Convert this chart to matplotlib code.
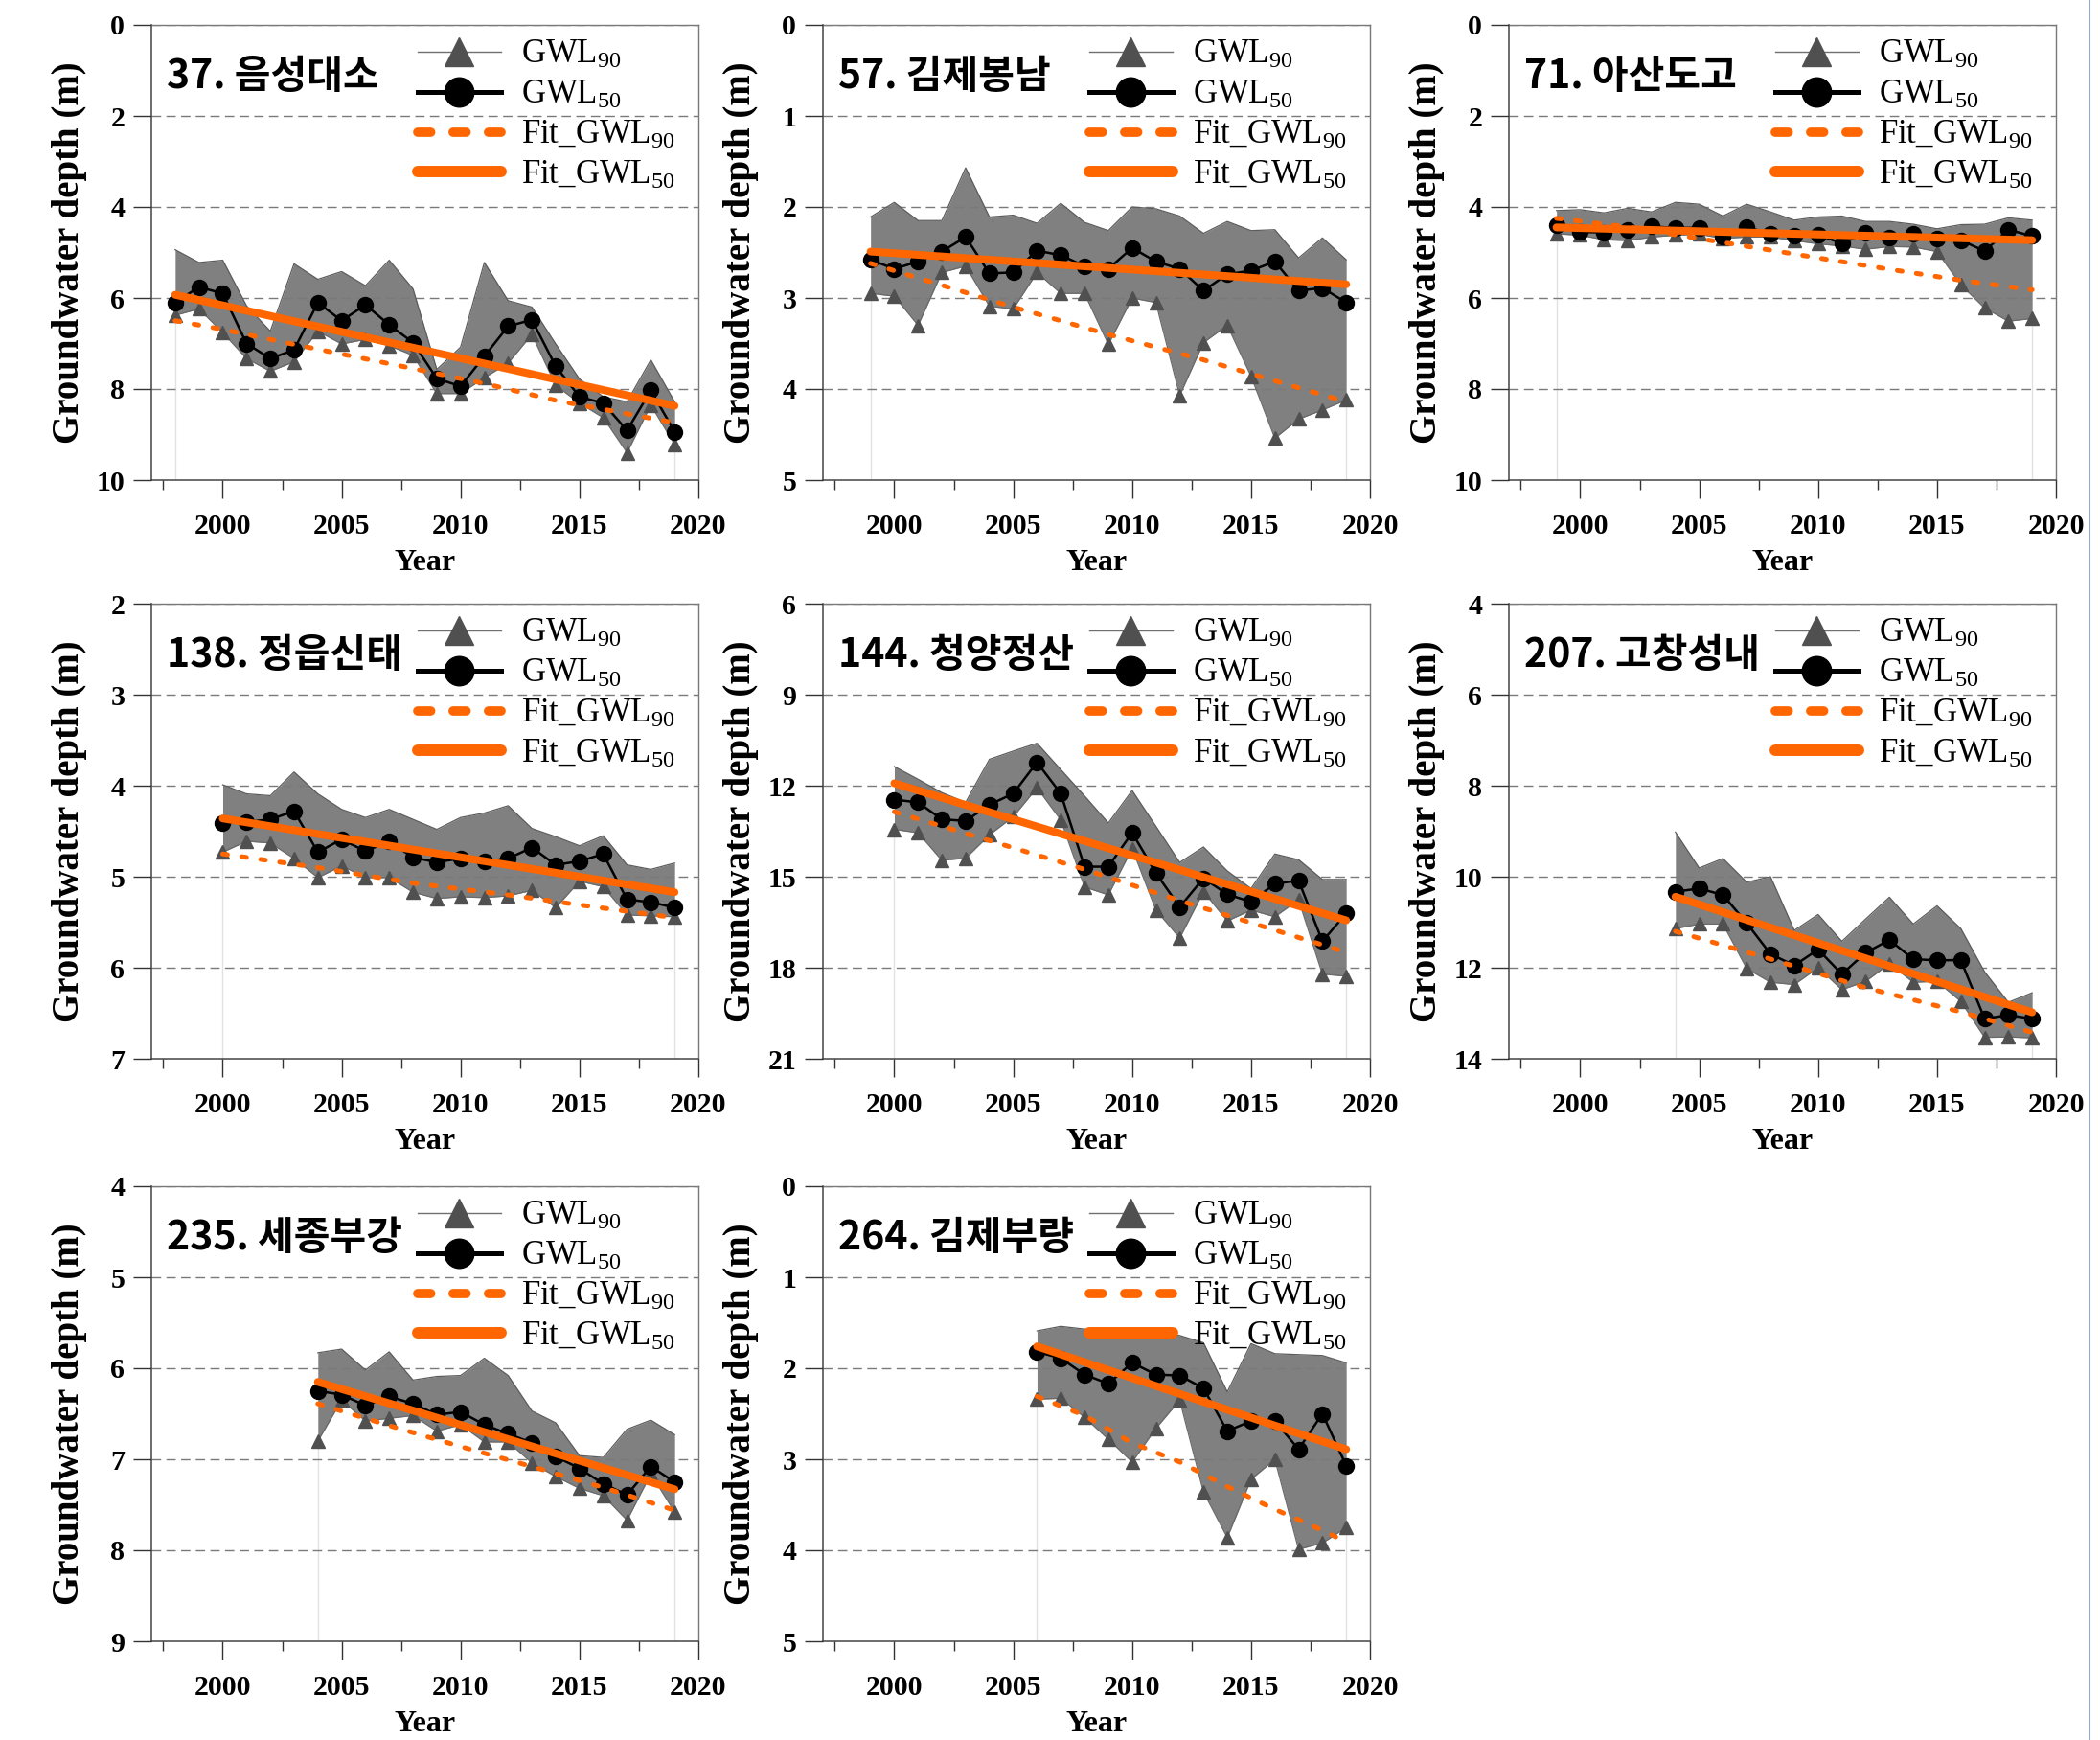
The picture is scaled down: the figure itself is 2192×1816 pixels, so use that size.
import matplotlib
matplotlib.use("Agg")
import matplotlib.pyplot as plt
from matplotlib.lines import Line2D
from matplotlib.ticker import MultipleLocator

plt.rcParams["font.family"] = ["Liberation Serif", "DejaVu Serif"]
plt.rcParams["mathtext.fontset"] = "custom"
plt.rcParams["mathtext.rm"] = "Liberation Serif"
plt.rcParams["mathtext.it"] = "Liberation Serif:italic"
plt.rcParams["mathtext.bf"] = "Liberation Serif:bold"

# ---------------------------------------------------------------------------
# Data (groundwater depth, m)
# upper_*: shallow edge of the shaded band, g90_*: GWL90, g50_*: GWL50
# fit50_*: (first-year, last-year) values of the linear GWL50 fit
# fit90_*: GWL90 fit curve read at the years in fit90_yr_*
# ---------------------------------------------------------------------------
upper_37 = [4.94, 5.22, 5.17, 6.17, 6.73, 5.25, 5.59, 5.42, 5.73, 5.17, 5.80,
            7.57, 7.08, 5.22, 6.06, 6.20, 7.01, 7.78, 8.17, 8.28, 7.36, 8.28]
g90_37 = [6.38, 6.24, 6.76, 7.33, 7.61, 7.40, 6.73, 7.01, 6.91, 7.05, 7.26,
          8.10, 8.10, 7.75, 7.43, 6.80, 7.92, 8.31, 8.63, 9.40, 8.35, 9.22]
g50_37 = [6.10, 5.76, 5.90, 7.00, 7.33, 7.14, 6.10, 6.50, 6.15, 6.59, 6.98,
          7.77, 7.94, 7.28, 6.62, 6.48, 7.50, 8.17, 8.31, 8.91, 8.03, 8.94]
fit50_37 = [5.93, 8.37]
fit90_yr_37 = [1998, 2000, 2003, 2008, 2011, 2014, 2019]
fit90_37 = [6.50, 6.69, 7.02, 7.55, 7.88, 8.25, 8.74]

upper_57 = [2.11, 1.95, 2.15, 2.15, 1.57, 2.11, 2.09, 2.18, 1.96, 2.17, 2.26,
            2.00, 2.02, 2.10, 2.29, 2.16, 2.26, 2.25, 2.56, 2.34, 2.58]
g90_57 = [2.95, 2.98, 3.30, 2.72, 2.65, 3.09, 3.12, 2.72, 2.95, 2.95, 3.51,
          3.00, 3.05, 4.07, 3.49, 3.30, 3.86, 4.54, 4.33, 4.23, 4.12]
g50_57 = [2.58, 2.68, 2.60, 2.49, 2.33, 2.73, 2.72, 2.48, 2.53, 2.65, 2.68,
          2.45, 2.60, 2.68, 2.92, 2.74, 2.70, 2.60, 2.92, 2.89, 3.05]
fit50_57 = [2.49, 2.85]
fit90_yr_57 = [1999, 2002, 2005, 2009, 2013, 2016, 2019]
fit90_57 = [2.62, 2.86, 3.10, 3.40, 3.68, 3.91, 4.14]

upper_71 = [4.08, 4.06, 4.13, 4.03, 4.11, 3.90, 3.94, 4.20, 3.94, 4.11, 4.29,
            4.22, 4.20, 4.32, 4.32, 4.38, 4.48, 4.39, 4.38, 4.24, 4.29]
g90_71 = [4.59, 4.62, 4.72, 4.74, 4.66, 4.62, 4.60, 4.69, 4.66, 4.66, 4.74,
          4.81, 4.86, 4.93, 4.87, 4.88, 4.98, 5.71, 6.22, 6.51, 6.45]
g50_71 = [4.41, 4.55, 4.56, 4.51, 4.43, 4.46, 4.46, 4.65, 4.45, 4.58, 4.63,
          4.61, 4.80, 4.57, 4.68, 4.60, 4.69, 4.73, 4.97, 4.50, 4.64]
fit50_71 = [4.45, 4.73]
fit90_yr_71 = [1999, 2002, 2006, 2010, 2013, 2016, 2019]
fit90_71 = [4.25, 4.44, 4.78, 5.12, 5.37, 5.61, 5.82]

upper_138 = [3.99, 4.09, 4.11, 3.85, 4.09, 4.26, 4.35, 4.26, 4.37, 4.48,
             4.35, 4.30, 4.22, 4.47, 4.56, 4.66, 4.55, 4.87, 4.92, 4.85]
g90_138 = [4.73, 4.61, 4.63, 4.80, 5.01, 4.88, 5.01, 5.01, 5.17, 5.24,
           5.22, 5.23, 5.21, 5.15, 5.34, 5.05, 5.11, 5.42, 5.43, 5.44]
g50_138 = [4.41, 4.40, 4.37, 4.28, 4.73, 4.59, 4.72, 4.61, 4.79, 4.84,
           4.80, 4.83, 4.80, 4.68, 4.87, 4.83, 4.75, 5.25, 5.28, 5.34]
fit50_138 = [4.36, 5.17]
fit90_yr_138 = [2000, 2004, 2008, 2012, 2015, 2019]
fit90_138 = [4.75, 4.90, 5.07, 5.20, 5.31, 5.45]

upper_144 = [11.37, 11.79, 12.23, 12.55, 11.13, 10.86, 10.60, 11.47, 12.34, 13.23,
             12.16, 13.34, 14.53, 14.02, 14.81, 15.39, 14.25, 14.44, 15.09, 15.09]
g90_144 = [13.44, 13.55, 14.46, 14.39, 13.62, 13.02, 12.07, 13.13, 15.34, 15.60,
           14.07, 16.10, 17.02, 15.49, 16.46, 16.10, 16.32, 15.76, 18.21, 18.28]
g50_144 = [12.46, 12.55, 13.11, 13.16, 12.63, 12.26, 11.23, 12.26, 14.67, 14.67,
           13.55, 14.88, 16.00, 15.05, 15.58, 15.83, 15.23, 15.13, 17.13, 16.21]
fit50_144 = [11.92, 16.44]
fit90_yr_144 = [2000, 2004, 2008, 2012, 2016, 2019]
fit90_144 = [12.86, 13.81, 14.76, 15.79, 16.76, 17.49]

upper_207 = [9.02, 9.81, 9.60, 10.12, 10.00, 11.18, 10.83, 11.42,
             10.93, 10.45, 11.04, 10.64, 11.14, 12.09, 12.76, 12.55]
g90_207 = [11.14, 11.04, 11.04, 12.02, 12.32, 12.37, 12.00, 12.48,
           12.30, 11.91, 12.32, 12.30, 12.74, 13.53, 13.52, 13.54]
g50_207 = [10.33, 10.26, 10.40, 11.02, 11.70, 11.95, 11.60, 12.14,
           11.67, 11.39, 11.81, 11.84, 11.83, 13.12, 13.04, 13.12]
fit50_207 = [10.44, 12.98]
fit90_yr_207 = [2004, 2008, 2012, 2016, 2019]
fit90_207 = [11.20, 11.81, 12.44, 12.97, 13.42]

upper_235 = [5.83, 5.79, 6.02, 5.82, 6.13, 6.09, 6.08, 5.89,
             6.08, 6.47, 6.60, 6.96, 6.98, 6.67, 6.57, 6.73]
g90_235 = [6.80, 6.35, 6.58, 6.55, 6.52, 6.69, 6.62, 6.81,
           6.81, 7.04, 7.19, 7.32, 7.40, 7.67, 7.16, 7.58]
g50_235 = [6.25, 6.29, 6.41, 6.31, 6.39, 6.51, 6.48, 6.62,
           6.72, 6.82, 6.97, 7.10, 7.27, 7.39, 7.08, 7.25]
fit50_235 = [6.15, 7.33]
fit90_yr_235 = [2004, 2007, 2010, 2013, 2016, 2019]
fit90_235 = [6.39, 6.63, 6.86, 7.08, 7.31, 7.56]

upper_264 = [1.59, 1.54, 1.57, 1.59, 1.61, 1.62, 1.64,
             1.72, 2.26, 1.73, 1.84, 1.85, 1.86, 1.94]
g90_264 = [2.34, 2.33, 2.54, 2.78, 3.03, 2.66, 2.35,
           3.36, 3.86, 3.22, 3.00, 3.99, 3.92, 3.75]
g50_264 = [1.82, 1.89, 2.07, 2.17, 1.94, 2.07, 2.08,
           2.22, 2.69, 2.58, 2.58, 2.89, 2.50, 3.07]
fit50_264 = [1.76, 2.89]
fit90_yr_264 = [2006, 2008, 2010, 2012, 2014, 2016, 2018, 2019]
fit90_264 = [2.31, 2.52, 2.82, 3.03, 3.30, 3.55, 3.78, 3.91]

station_names = ["37. 음성대소", "57. 김제봉남", "71. 아산도고",
                 "138. 정읍신태", "144. 청양정산", "207. 고창성내",
                 "235. 세종부강", "264. 김제부량"]
first_years = [1998, 1999, 1999, 2000, 2000, 2004, 2004, 2006]
last_year = 2019
y_ranges = [(0, 10), (0, 5), (0, 10), (2, 7), (6, 21), (4, 14), (4, 9), (0, 5)]
y_steps = [2, 1, 2, 1, 3, 2, 1, 1]

uppers = [upper_37, upper_57, upper_71, upper_138, upper_144, upper_207, upper_235, upper_264]
g90s = [g90_37, g90_57, g90_71, g90_138, g90_144, g90_207, g90_235, g90_264]
g50s = [g50_37, g50_57, g50_71, g50_138, g50_144, g50_207, g50_235, g50_264]
fit50s = [fit50_37, fit50_57, fit50_71, fit50_138, fit50_144, fit50_207, fit50_235, fit50_264]
fit90_yrs = [fit90_yr_37, fit90_yr_57, fit90_yr_71, fit90_yr_138,
             fit90_yr_144, fit90_yr_207, fit90_yr_235, fit90_yr_264]
fit90s = [fit90_37, fit90_57, fit90_71, fit90_138, fit90_144, fit90_207, fit90_235, fit90_264]

# ---------------------------------------------------------------------------
# Style / layout
# ---------------------------------------------------------------------------
ORANGE = "#ff6600"
BAND = "#808080"
TRI = "#505050"
W_PX, H_PX = 2192, 1816
COL_LEFT = [158, 859, 1575]
ROW_TOP = [26, 630, 1238]
AX_W, AX_H = 571, 475

fig = plt.figure(figsize=(W_PX / 100, H_PX / 100), dpi=100)

legend_handles = [
    Line2D([], [], color="#707070", lw=1.0, marker="^", ms=21, mfc=TRI, mec=TRI),
    Line2D([], [], color="black", lw=3.6, marker="o", ms=22, mfc="black", mec="black"),
    Line2D([], [], color=ORANGE, lw=7, dashes=(1.4, 2.4), dash_capstyle="round"),
    Line2D([], [], color=ORANGE, lw=8.6, solid_capstyle="round"),
]
legend_labels = ["GWL$_{90}$", "GWL$_{50}$", "Fit_GWL$_{90}$", "Fit_GWL$_{50}$"]

for i, name in enumerate(station_names):
    row, col = divmod(i, 3)
    left = COL_LEFT[col] / W_PX
    bottom = 1 - (ROW_TOP[row] + AX_H) / H_PX
    ax = fig.add_axes([left, bottom, AX_W / W_PX, AX_H / H_PX])

    years = list(range(first_years[i], last_year + 1))
    ymin, ymax = y_ranges[i]

    # faint drop lines at both ends of the record
    ax.vlines([years[0], years[-1]], [g90s[i][0], g90s[i][-1]], ymax,
              color="#e2e2e2", lw=1.0, zorder=1)

    ax.fill_between(years, uppers[i], g90s[i], color=BAND, lw=0, zorder=2)
    ax.plot(years, uppers[i], color="#5c5c5c", lw=0.9, zorder=3)
    ax.plot(years, g90s[i], color="#6a6a6a", lw=0.9, marker="^", ms=10,
            mfc=TRI, mec=TRI, zorder=4)
    ax.plot(years, g50s[i], color="black", lw=1.8, marker="o", ms=11.5,
            mfc="black", mec="black", zorder=5)
    ax.plot(fit90_yrs[i], fit90s[i], color=ORANGE, lw=3.6, dashes=(1.0, 3.0),
            dash_capstyle="round", zorder=6)
    ax.plot([years[0], years[-1]], fit50s[i], color=ORANGE, lw=5.8,
            solid_capstyle="round", zorder=7)

    ax.set_xlim(1997, 2020)
    ax.set_ylim(ymax, ymin)
    ax.xaxis.set_major_locator(MultipleLocator(5))
    ax.xaxis.set_minor_locator(MultipleLocator(2.5))
    ax.yaxis.set_major_locator(MultipleLocator(y_steps[i]))
    ax.yaxis.grid(True, color="#7a7a7a", lw=1.0, linestyle=(0, (7, 4)))
    ax.set_axisbelow(False)

    ax.tick_params(axis="x", which="major", direction="out", length=14, width=1.0,
                   pad=11, labelsize=21.5, color="#333333")
    ax.tick_params(axis="x", which="minor", direction="out", length=7, width=1.0,
                   color="#333333")
    ax.tick_params(axis="y", which="major", direction="out", length=14, width=1.0,
                   pad=6, labelsize=21.5, color="#333333")
    for lab in ax.get_xticklabels() + ax.get_yticklabels():
        lab.set_fontweight("bold")
    for side in ("left", "bottom"):
        ax.spines[side].set_color("#444444")
        ax.spines[side].set_linewidth(1.1)
    for side in ("top", "right"):
        ax.spines[side].set_color("#777777")
        ax.spines[side].set_linewidth(1.0)

    ax.set_xlabel("Year", fontsize=23, fontweight="bold")
    ax.set_ylabel("Groundwater depth (m)", fontsize=28, fontweight="bold")
    ax.xaxis.set_label_coords(0.5, -0.152)
    ax.yaxis.set_label_coords(-0.118, 0.5)

    ax.text(0.028, 0.886, name, transform=ax.transAxes, fontsize=29.5,
            fontweight="bold", family=["Noto Sans CJK KR", "DejaVu Sans"],
            ha="left", va="center", zorder=8)

    ax.legend(legend_handles, legend_labels, loc="upper left",
              bbox_to_anchor=(0.487, 0.968), frameon=False, fontsize=25,
              handlelength=2.5, handletextpad=0.6, labelspacing=0.25,
              borderpad=0, borderaxespad=0)

# thin page border at the right edge of the screenshot
fig.add_artist(Line2D([2181 / W_PX] * 2, [0, 1], transform=fig.transFigure,
                      color="#9aa8c0", lw=1.5))

fig.savefig("out.png", dpi=100)
